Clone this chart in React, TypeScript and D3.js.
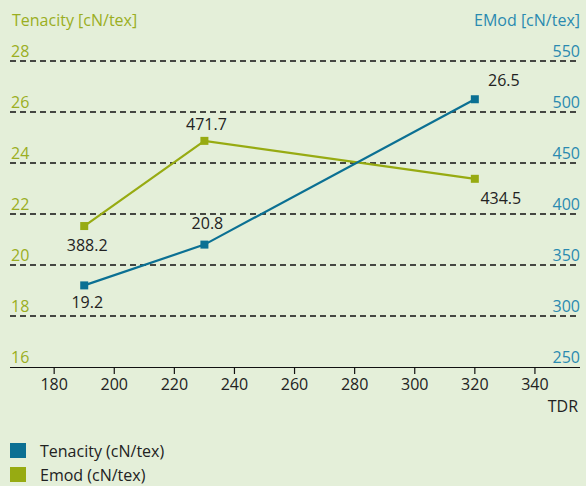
import React from "react";
import * as d3 from "d3";

const tdr = [190, 230, 320];
const tenacity = [19.2, 20.8, 26.5];
const emod = [388.2, 471.7, 434.5];
const xTicks = [180, 200, 220, 240, 260, 280, 300, 320, 340];
const leftTicks = [16, 18, 20, 22, 24, 26, 28];
const rightTicks = [250, 300, 350, 400, 450, 500, 550];

const W = 586;
const H = 486;
const BG = "#e4efd9";
const BLUE = "#0b7093";
const GREEN = "#97ab12";
const BLUE_TXT = "#2a8ab0";
const GREEN_TXT = "#9aae22";
const FONT = "'Open Sans', 'Noto Sans', sans-serif";

export default function App() {
  const x = d3.scaleLinear().domain([165.3, 355]).range([10, 580]);
  const yL = d3.scaleLinear().domain([16, 28]).range([367, 61]);
  const yR = d3.scaleLinear().domain([250, 550]).range([367, 61]);

  const tenPts = tdr.map((d, i) => [x(d), yL(tenacity[i])] as [number, number]);
  const emPts = tdr.map((d, i) => [x(d), yR(emod[i])] as [number, number]);
  const line = d3.line();

  const tenLabelOff: [number, number, string][] = [
    [3, 23, "middle"],
    [3, -16, "middle"],
    [29, -13, "middle"],
  ];
  const emLabelOff: [number, number, string][] = [
    [3, 25, "middle"],
    [2, -11, "middle"],
    [26, 25, "middle"],
  ];

  return (
    <svg
      width={W}
      height={H}
      style={{ position: "absolute", left: 0, top: 0 }}
      fontFamily={FONT}
    >
      <rect width={W} height={H} fill={BG} />
      <text x={12} y={26} fontSize={16} fill={GREEN_TXT}>
        Tenacity [cN/tex]
      </text>
      <text x={580} y={26} fontSize={16} fill={BLUE_TXT} textAnchor="end">
        EMod [cN/tex]
      </text>
      {leftTicks.map((t, i) => (
        <g key={t}>
          {i > 0 && (
            <line
              x1={10}
              x2={580}
              y1={yL(t)}
              y2={yL(t)}
              stroke="#111"
              strokeWidth={1.6}
              strokeDasharray="6,4"
            />
          )}
          <text x={11} y={yL(t) - 4} fontSize={16} fill={GREEN_TXT}>
            {t}
          </text>
          <text
            x={580}
            y={yR(rightTicks[i]) - 4}
            fontSize={16}
            fill={BLUE_TXT}
            textAnchor="end"
          >
            {rightTicks[i]}
          </text>
        </g>
      ))}
      <line x1={10} x2={580} y1={367.5} y2={367.5} stroke="#111" strokeWidth={1.2} />
      {xTicks.map((t) => (
        <g key={t}>
          <line x1={x(t)} x2={x(t)} y1={368} y2={374} stroke="#111" strokeWidth={1.2} />
          <text x={x(t)} y={390} fontSize={16} fill="#222" textAnchor="middle">
            {t}
          </text>
        </g>
      ))}
      <text x={578} y={412} fontSize={16} fill="#222" textAnchor="end">
        TDR
      </text>

      <path d={line(emPts) || ""} fill="none" stroke={GREEN} strokeWidth={2.2} />
      <path d={line(tenPts) || ""} fill="none" stroke={BLUE} strokeWidth={2.2} />
      {emPts.map((p, i) => (
        <rect key={"e" + i} x={p[0] - 4} y={p[1] - 4} width={8} height={8} fill={GREEN} />
      ))}
      {tenPts.map((p, i) => (
        <rect key={"t" + i} x={p[0] - 4} y={p[1] - 4} width={8} height={8} fill={BLUE} />
      ))}
      {tenPts.map((p, i) => (
        <text
          key={"tl" + i}
          x={p[0] + tenLabelOff[i][0]}
          y={p[1] + tenLabelOff[i][1]}
          fontSize={16}
          fill="#222"
          textAnchor={tenLabelOff[i][2] as any}
        >
          {tenacity[i].toFixed(1)}
        </text>
      ))}
      {emPts.map((p, i) => (
        <text
          key={"el" + i}
          x={p[0] + emLabelOff[i][0]}
          y={p[1] + emLabelOff[i][1]}
          fontSize={16}
          fill="#222"
          textAnchor={emLabelOff[i][2] as any}
        >
          {emod[i].toFixed(1)}
        </text>
      ))}

      <rect x={10} y={443} width={16} height={15} fill={BLUE} />
      <text x={40} y={457} fontSize={16} fill="#222">
        Tenacity (cN/tex)
      </text>
      <rect x={10} y={467} width={16} height={15} fill={GREEN} />
      <text x={40} y={481} fontSize={16} fill="#222">
        Emod (cN/tex)
      </text>
    </svg>
  );
}
